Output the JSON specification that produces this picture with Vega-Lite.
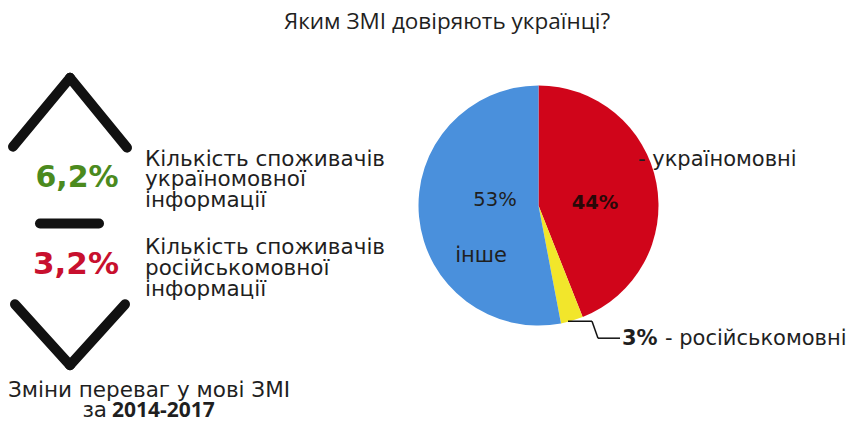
{
  "$schema": "https://vega.github.io/schema/vega-lite/v6.json",
  "width": 855,
  "height": 422,
  "autosize": {"type": "fit", "contains": "padding"},
  "padding": 0,
  "background": "white",
  "data": {"values": [{}]},
  "config": {"view": {"stroke": null}, "text": {"font": "DejaVu Sans", "color": "#1f1f1f"}},
  "layer": [
    {
      "data": {"values": [
        {"segment": "україномовні", "share": 44, "ord": 1},
        {"segment": "російськомовні", "share": 3, "ord": 2},
        {"segment": "інше", "share": 53, "ord": 3}
      ]},
      "mark": {"type": "arc", "radius": 120},
      "encoding": {
        "theta": {"field": "share", "type": "quantitative", "stack": true},
        "order": {"field": "ord", "type": "quantitative"},
        "color": {"field": "segment", "type": "nominal", "legend": null,
          "scale": {"domain": ["україномовні", "російськомовні", "інше"], "range": ["#d0051a", "#f2e62b", "#4a90dc"]}},
        "x": {"datum": 538.5, "type": "quantitative", "scale": {"domain": [0, 855], "nice": false, "zero": false}, "axis": null},
        "y": {"datum": 206, "type": "quantitative", "scale": {"domain": [0, 422], "nice": false, "zero": false, "reverse": true}, "axis": null}
      }
    },
    {
      "mark": {"type": "rule", "strokeWidth": 10, "strokeCap": "round", "color": "#111111"},
      "encoding": {"x": {"datum": 13, "type": "quantitative"}, "y": {"datum": 147, "type": "quantitative"}, "x2": {"datum": 70}, "y2": {"datum": 78}}
    },
    {
      "mark": {"type": "rule", "strokeWidth": 10, "strokeCap": "round", "color": "#111111"},
      "encoding": {"x": {"datum": 70, "type": "quantitative"}, "y": {"datum": 78, "type": "quantitative"}, "x2": {"datum": 127}, "y2": {"datum": 148}}
    },
    {
      "mark": {"type": "rule", "strokeWidth": 10, "strokeCap": "round", "color": "#111111"},
      "encoding": {"x": {"datum": 40, "type": "quantitative"}, "y": {"datum": 224, "type": "quantitative"}, "x2": {"datum": 99}, "y2": {"datum": 224}}
    },
    {
      "mark": {"type": "rule", "strokeWidth": 10, "strokeCap": "round", "color": "#111111"},
      "encoding": {"x": {"datum": 15, "type": "quantitative"}, "y": {"datum": 305, "type": "quantitative"}, "x2": {"datum": 70}, "y2": {"datum": 366}}
    },
    {
      "mark": {"type": "rule", "strokeWidth": 10, "strokeCap": "round", "color": "#111111"},
      "encoding": {"x": {"datum": 70, "type": "quantitative"}, "y": {"datum": 366, "type": "quantitative"}, "x2": {"datum": 125}, "y2": {"datum": 305}}
    },
    {
      "mark": {"type": "rule", "strokeWidth": 1.5, "color": "#111111"},
      "encoding": {"x": {"datum": 568, "type": "quantitative"}, "y": {"datum": 322, "type": "quantitative"}, "x2": {"datum": 592}, "y2": {"datum": 322}}
    },
    {
      "mark": {"type": "rule", "strokeWidth": 1.5, "color": "#111111"},
      "encoding": {"x": {"datum": 592, "type": "quantitative"}, "y": {"datum": 322, "type": "quantitative"}, "x2": {"datum": 598}, "y2": {"datum": 339}}
    },
    {
      "mark": {"type": "rule", "strokeWidth": 1.5, "color": "#111111"},
      "encoding": {"x": {"datum": 598, "type": "quantitative"}, "y": {"datum": 339, "type": "quantitative"}, "x2": {"datum": 620}, "y2": {"datum": 339}}
    },
    {
      "mark": {"type": "text", "text": "Яким ЗМІ довіряють українці?", "font": "Open Sans", "fontSize": 22.5, "align": "center", "baseline": "middle"},
      "encoding": {"x": {"datum": 447, "type": "quantitative"}, "y": {"datum": 22, "type": "quantitative"}}
    },
    {
      "mark": {"type": "text", "text": "6,2%", "fontSize": 30, "fontWeight": "bold", "color": "#4b8a1e", "align": "center", "baseline": "middle"},
      "encoding": {"x": {"datum": 77, "type": "quantitative"}, "y": {"datum": 178, "type": "quantitative"}}
    },
    {
      "mark": {"type": "text", "text": "3,2%", "fontSize": 31, "fontWeight": "bold", "color": "#c8102e", "align": "center", "baseline": "middle"},
      "encoding": {"x": {"datum": 76, "type": "quantitative"}, "y": {"datum": 266, "type": "quantitative"}}
    },
    {
      "mark": {"type": "text", "text": ["Кількість споживачів", "україномовної", "інформації"], "fontSize": 21.5, "lineHeight": 20.5, "align": "left", "baseline": "alphabetic"},
      "encoding": {"x": {"datum": 145, "type": "quantitative"}, "y": {"datum": 166, "type": "quantitative"}}
    },
    {
      "mark": {"type": "text", "text": ["Кількість споживачів", "російськомовної", "інформації"], "fontSize": 21.5, "lineHeight": 21, "align": "left", "baseline": "alphabetic"},
      "encoding": {"x": {"datum": 145, "type": "quantitative"}, "y": {"datum": 255, "type": "quantitative"}}
    },
    {
      "mark": {"type": "text", "text": "Зміни переваг у мові ЗМІ", "fontSize": 21.5, "align": "center", "baseline": "alphabetic"},
      "encoding": {"x": {"datum": 149, "type": "quantitative"}, "y": {"datum": 398, "type": "quantitative"}}
    },
    {
      "mark": {"type": "text", "text": "за", "fontSize": 21.5, "align": "right", "baseline": "alphabetic"},
      "encoding": {"x": {"datum": 107, "type": "quantitative"}, "y": {"datum": 418, "type": "quantitative"}}
    },
    {
      "mark": {"type": "text", "text": "2014-2017", "font": "Open Sans", "fontSize": 21, "fontWeight": "bold", "align": "left", "baseline": "alphabetic"},
      "encoding": {"x": {"datum": 112, "type": "quantitative"}, "y": {"datum": 418, "type": "quantitative"}}
    },
    {
      "mark": {"type": "text", "text": "53%", "fontSize": 19.5, "align": "center", "baseline": "middle"},
      "encoding": {"x": {"datum": 495, "type": "quantitative"}, "y": {"datum": 200, "type": "quantitative"}}
    },
    {
      "mark": {"type": "text", "text": "44%", "fontSize": 19.5, "fontWeight": "bold", "color": "#2a0808", "align": "center", "baseline": "middle"},
      "encoding": {"x": {"datum": 595, "type": "quantitative"}, "y": {"datum": 203, "type": "quantitative"}}
    },
    {
      "mark": {"type": "text", "text": "інше", "fontSize": 21, "align": "center", "baseline": "middle"},
      "encoding": {"x": {"datum": 481, "type": "quantitative"}, "y": {"datum": 257, "type": "quantitative"}}
    },
    {
      "mark": {"type": "text", "text": "- україномовні", "fontSize": 21, "align": "left", "baseline": "middle"},
      "encoding": {"x": {"datum": 638, "type": "quantitative"}, "y": {"datum": 160, "type": "quantitative"}}
    },
    {
      "mark": {"type": "text", "text": "3%", "fontSize": 21, "fontWeight": "bold", "align": "left", "baseline": "middle"},
      "encoding": {"x": {"datum": 622, "type": "quantitative"}, "y": {"datum": 340, "type": "quantitative"}}
    },
    {
      "mark": {"type": "text", "text": "- російськомовні", "fontSize": 21, "align": "left", "baseline": "middle"},
      "encoding": {"x": {"datum": 665, "type": "quantitative"}, "y": {"datum": 340, "type": "quantitative"}}
    }
  ]
}
